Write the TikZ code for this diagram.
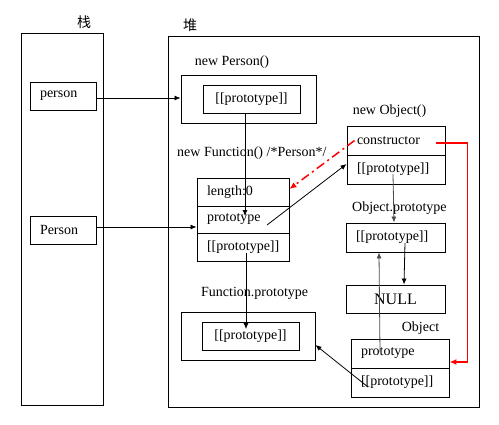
\documentclass[tikz,border=0pt]{standalone}
\usepackage{fontspec}
\setmainfont{Liberation Serif}
\newfontfamily\cjk{Noto Sans CJK SC}
\usetikzlibrary{arrows.meta}
\begin{document}
\begin{tikzpicture}[x=1pt,y=-1pt,
  every node/.style={font=\fontsize{14}{16}\selectfont, inner sep=0pt},
  rbox/.style={draw, line width=0.9pt, minimum width=#1},
  cellL/.style={draw, line width=0.9pt, minimum width=#1, text width=#1-20pt, inner xsep=10pt, align=left},
  lbl/.style={},
  arr/.style={line width=0.8pt, -{Latex[length=6pt,width=5pt]}},
  garr/.style={line width=0.8pt, draw=black!70, -{Latex[length=6pt,width=5pt]}},
  redarr/.style={line width=1.5pt, draw=red, -{Latex[length=7pt,width=6pt]}}]
\useasboundingbox (0,0) rectangle (499,424);
% outer areas
\node[rbox=82pt, minimum height=372pt] (stack) at (62,219) {};
\node[rbox=311pt, minimum height=371pt] (heap) at (323.5,221.5) {};
\node[lbl] (lstack) at (84,22) {\cjk 栈};
\node[lbl] (lheap) at (190,25) {\cjk 堆};
% stack variables
\node[cellL=66pt, minimum height=28pt] (personv) at (63,96) {person};
\node[cellL=66pt, minimum height=28pt] (Personv) at (63,230) {Person};
% new Person()
\node[lbl] (lnp) at (232,62) {new Person()};
\node[rbox=135pt, minimum height=48pt] (npOuter) at (248.5,99) {};
\node[rbox=97pt, minimum height=28pt] (npInner) at (251.5,99) {[[prototype]]};
% new Function()
\node[lbl, anchor=west] (lnf) at (177,153) {new Function() /*Person*/};
\node[cellL=92pt, minimum height=28pt] (fn1) at (243,192) {length:0};
\node[cellL=92pt, minimum height=27pt] (fn2) at (243,219.5) {prototype};
\node[cellL=92pt, minimum height=28pt] (fn3) at (243,247) {[[prototype]]};
% new Object()
\node[lbl] (lno) at (389.5,111) {new Object()};
\node[cellL=98pt, minimum height=29pt] (nobj1) at (396,140.5) {constructor};
\node[cellL=98pt, minimum height=29pt] (nobj2) at (396,169.5) {[[prototype]]};
% Object.prototype
\node[lbl, anchor=west] (lop) at (352,208) {Object.prototype};
\node[cellL=99pt, minimum height=29pt] (optop) at (395.5,237.5) {[[prototype]]};
% NULL
\node[rbox=99pt, minimum height=28pt, font=\fontsize{16}{18}\selectfont] (null) at (395.5,299) {NULL};
% Object
\node[lbl] (lobj) at (420.5,328) {Object};
\node[cellL=98pt, minimum height=29pt] (obj1) at (400,353.5) {prototype};
\node[cellL=98pt, minimum height=29pt] (obj2) at (400,382.5) {[[prototype]]};
% Function.prototype
\node[lbl, anchor=west] (lfp) at (201,293) {Function.prototype};
\node[rbox=134pt, minimum height=48pt] (fpOuter) at (248,336) {};
\node[rbox=97pt, minimum height=28pt] (fpInner) at (250.5,336) {[[prototype]]};
% connectors
\draw[arr] ([yshift=-2pt]personv.east) -- ([yshift=-2pt]personv.east -| npOuter.west);
\draw[arr] ([yshift=3pt]Personv.east) -- ([yshift=3pt]Personv.east -| fn2.west);
\draw[arr] ([xshift=-6.5pt]npInner.south) -- ([xshift=-6.5pt,yshift=3.5pt]npInner.south |- fn2.center);
\draw[arr] ([shift={(24,5.5)}]fn2.center) -- ([yshift=5.5pt]nobj2.west);
\draw[redarr, dash pattern=on 9pt off 4pt on 2pt off 4pt] ([xshift=8pt]nobj1.west) -- ([yshift=3pt]fn1.east);
\draw[redarr] ([xshift=-9pt,yshift=-2.5pt]nobj1.east) -- ++(31,0) |- ([yshift=-8.5pt]obj1.east);
\draw[garr] ([shift={(-3,4.5)}]nobj2.center) -- ([xshift=-1.5pt]optop.north);
\draw[arr] ([shift={(9.5,5.5)}]optop.center) -- ([xshift=8.5pt]null.north);
\draw[garr] ([shift={(-20,-1.5)}]obj1.center) -- ([xshift=-16.5pt]optop.south);
\draw[arr] ([shift={(-32,4.5)}]obj2.center) -- ([yshift=-9pt]fpOuter.east);
\draw[arr] ([shift={(3,6)}]fn3.center) -- ([shift={(-4.5,-7)}]fpInner.center);
\end{tikzpicture}
\end{document}
